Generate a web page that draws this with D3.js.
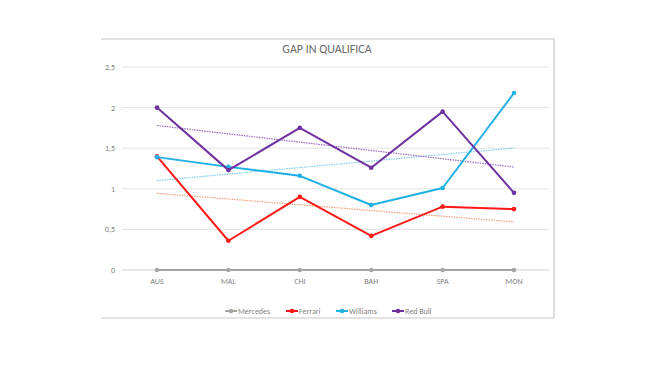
<!DOCTYPE html>
<html>
<head>
<meta charset="utf-8">
<script src="https://cdn.jsdelivr.net/npm/d3@7"></script>
<style>
  body { margin: 0; background: #fff; }
  svg { display: block; font-family: Calibri, Carlito, "Open Sans", sans-serif; }
</style>
</head>
<body>
<svg width="658" height="366"></svg>
<script>
// Data.
const races = ['AUS', 'MAL', 'CHI', 'BAH', 'SPA', 'MON'];
const mercedes = [0, 0, 0, 0, 0, 0];
const ferrari = [1.40, 0.36, 0.90, 0.42, 0.78, 0.75];
const williams = [1.39, 1.27, 1.16, 0.80, 1.01, 2.18];
const redBull = [2.00, 1.23, 1.75, 1.26, 1.95, 0.95];
const yTicks = [0, 0.5, 1, 1.5, 2, 2.5];
const yTickLabels = ['0', '0,5', '1', '1,5', '2', '2,5'];

const series = [
  { name: 'Mercedes', values: mercedes, color: '#a5a5a5', trend: null },
  { name: 'Ferrari', values: ferrari, color: '#ff1a1a', trend: '#f4a27a' },
  { name: 'Williams', values: williams, color: '#1fb0e6', trend: '#7fd0f0' },
  { name: 'Red Bull', values: redBull, color: '#7030a0', trend: '#9a6cc4' }
];

const svg = d3.select('svg');

// Chart frame (top, right, bottom).
const frame = { left: 101, right: 554, top: 39, bottom: 318 };
svg.append('path')
  .attr('d', `M${frame.left},${frame.top}H${frame.right}V${frame.bottom}H${frame.left}`)
  .attr('fill', 'none')
  .attr('stroke', '#c8c8c8')
  .attr('stroke-width', 1.2);

// Title.
svg.append('text')
  .attr('x', 327)
  .attr('y', 53)
  .attr('text-anchor', 'middle')
  .attr('font-size', 12)
  .attr('font-weight', 300)
  .attr('fill', '#6a6a6a')
  .text('GAP IN QUALIFICA');

// Scales.
const x = d3.scalePoint().domain(races).range([157, 514]);
const y = d3.scaleLinear().domain([0, 2.5]).range([270, 67]);

// Gridlines.
svg.append('g')
  .selectAll('line')
  .data(yTicks.slice(1))
  .join('line')
  .attr('x1', 122)
  .attr('x2', 549)
  .attr('y1', d => y(d))
  .attr('y2', d => y(d))
  .attr('stroke', '#e3e3e3')
  .attr('stroke-width', 1);

// Y labels.
svg.append('g')
  .selectAll('text')
  .data(yTicks)
  .join('text')
  .attr('x', 115)
  .attr('y', d => y(d) + 3)
  .attr('text-anchor', 'end')
  .attr('font-size', 8)
  .attr('fill', '#7f7f7f')
  .text((d, i) => yTickLabels[i]);

// X axis line.
svg.append('line')
  .attr('x1', 122).attr('x2', 549)
  .attr('y1', y(0)).attr('y2', y(0))
  .attr('stroke', '#d0d0d0')
  .attr('stroke-width', 1);

// X labels.
svg.append('g')
  .selectAll('text')
  .data(races)
  .join('text')
  .attr('x', d => x(d))
  .attr('y', 284)
  .attr('text-anchor', 'middle')
  .attr('font-size', 8)
  .attr('fill', '#7f7f7f')
  .text(d => d);

// Linear trendlines (least squares, like Excel).
function trend(values) {
  const n = values.length;
  const xs = d3.range(1, n + 1);
  const mx = d3.mean(xs);
  const my = d3.mean(values);
  const slope = d3.sum(xs, (v, i) => (v - mx) * (values[i] - my)) / d3.sum(xs, v => (v - mx) ** 2);
  return xs.map(v => my + slope * (v - mx));
}

const line = d3.line()
  .x((d, i) => x(races[i]))
  .y(d => y(d));

series.filter(s => s.trend).forEach(s => {
  const t = trend(s.values);
  svg.append('line')
    .attr('x1', x(races[0])).attr('y1', y(t[0]))
    .attr('x2', x(races[races.length - 1])).attr('y2', y(t[t.length - 1]))
    .attr('stroke', s.trend)
    .attr('stroke-width', 1.2)
    .attr('stroke-dasharray', '1.5,1');
});

// Series lines and markers.
series.forEach(s => {
  svg.append('path')
    .datum(s.values)
    .attr('d', line)
    .attr('fill', 'none')
    .attr('stroke', s.color)
    .attr('stroke-width', 2)
    .attr('stroke-linejoin', 'round');
  svg.append('g')
    .selectAll('circle')
    .data(s.values)
    .join('circle')
    .attr('cx', (d, i) => x(races[i]))
    .attr('cy', d => y(d))
    .attr('r', 2.3)
    .attr('fill', s.color);
});

// Legend.
const legendX = [225, 286, 336, 392];
const legend = svg.append('g');
series.forEach((s, i) => {
  const g = legend.append('g').attr('transform', `translate(${legendX[i]},311)`);
  g.append('line').attr('x1', 0).attr('x2', 12).attr('y1', 0).attr('y2', 0)
    .attr('stroke', s.color).attr('stroke-width', 2);
  g.append('circle').attr('cx', 6).attr('cy', 0).attr('r', 2.3).attr('fill', s.color);
  g.append('text').attr('x', 13).attr('y', 3)
    .attr('font-size', 8).attr('fill', '#7f7f7f').text(s.name);
});
</script>
</body>
</html>
